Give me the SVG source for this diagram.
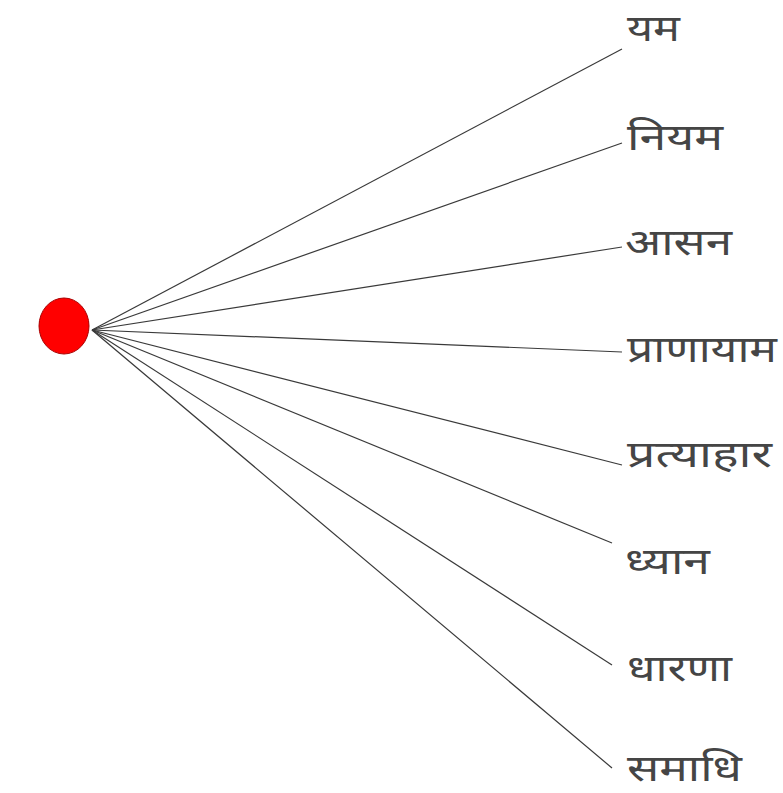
<svg xmlns="http://www.w3.org/2000/svg" width="783" height="793" viewBox="0 0 783 793">
<style>
.c line{stroke:#3a3a3a;stroke-width:1.2}
.t{font-family:"Noto Sans Devanagari","Noto Sans","Lohit Devanagari",sans-serif;font-size:37px;fill:#454545}
</style>
<rect width="783" height="793" fill="#fff"/>
<g id="connectors" class="c">
<line x1="92" y1="330" x2="622" y2="49"/>
<line x1="92" y1="330" x2="622" y2="143"/>
<line x1="92" y1="330" x2="622" y2="247"/>
<line x1="92" y1="330" x2="622" y2="352"/>
<line x1="92" y1="330" x2="622" y2="465"/>
<line x1="92" y1="330" x2="612" y2="543"/>
<line x1="92" y1="330" x2="612" y2="665"/>
<line x1="92" y1="330" x2="612" y2="768"/>
</g>
<g id="root"><ellipse cx="64" cy="326" rx="25" ry="28" fill="#f00" stroke="#a00" stroke-width="1"/></g>
<g id="n1"><text class="t" x="627" y="41" textLength="53" lengthAdjust="spacingAndGlyphs">यम</text></g>
<g id="n2"><text class="t" x="627" y="150" textLength="96" lengthAdjust="spacingAndGlyphs">नियम</text></g>
<g id="n3"><text class="t" x="625" y="255" textLength="107" lengthAdjust="spacingAndGlyphs">आसन</text></g>
<g id="n4"><text class="t" x="627" y="362" textLength="150" lengthAdjust="spacingAndGlyphs">प्राणायाम</text></g>
<g id="n5"><text class="t" x="627" y="467" textLength="145" lengthAdjust="spacingAndGlyphs">प्रत्याहार</text></g>
<g id="n6"><text class="t" x="625" y="574" textLength="85" lengthAdjust="spacingAndGlyphs">ध्यान</text></g>
<g id="n7"><text class="t" x="627" y="681" textLength="105" lengthAdjust="spacingAndGlyphs">धारणा</text></g>
<g id="n8"><text class="t" x="627" y="781" textLength="115" lengthAdjust="spacingAndGlyphs">समाधि</text></g>
</svg>
